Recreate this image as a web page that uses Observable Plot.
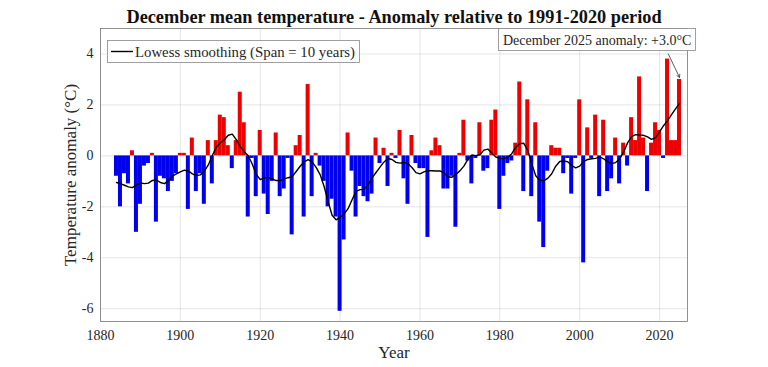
<!DOCTYPE html>
<html><head><meta charset="utf-8">
<script src="https://cdn.jsdelivr.net/npm/d3@7"></script>
<script src="https://cdn.jsdelivr.net/npm/@observablehq/plot@0.6"></script>
<style>
body{margin:0;background:#fff;}
svg{font-family:"Liberation Serif",serif;}
</style></head><body><div id="chart"></div>
<script>
const firstYear = 1884;
const anomalies = [
  -0.8,-2.0,-0.7,-1.1,0.2,-3.0,
  -1.9,-0.4,-0.3,0.1,-2.6,-0.8,-0.9,-1.4,-1.0,-0.7,
  0.1,0.1,-2.1,0.7,-1.4,-0.7,-1.9,0.6,-1.1,0.6,
  1.6,1.5,0.4,-0.5,0.6,2.5,1.3,-2.4,-0.1,-1.6,
  1.0,-1.5,-2.3,-1.0,0.9,-1.6,-1.3,-0.1,-3.1,0.4,
  0.8,-2.4,2.8,-1.6,0.1,-0.4,-1.0,-2.0,-1.7,-2.4,
  -6.1,-3.3,0.9,-0.6,-2.4,-1.2,-1.6,-1.8,-1.5,0.7,
  -0.3,0.3,-1.2,0.1,-0.1,1.0,-0.9,-1.9,0.8,-0.3,
  -0.5,-0.5,-3.2,0.2,0.7,0.4,-1.3,-1.3,-0.8,-2.8,
  0.1,1.4,-0.2,-1.1,-0.1,1.3,-0.6,-0.5,1.4,1.8,
  -2.1,-0.8,-0.3,-0.2,0.5,2.9,-1.4,2.2,-1.6,1.3,
  -2.6,-3.6,-0.6,0.4,0.3,0.3,-0.7,-0.1,-1.5,-0.1,
  2.2,-4.2,1.1,-0.1,1.6,-1.6,1.4,-1.4,-0.9,0.7,
  -1.1,0.5,-0.4,1.5,0.6,3.1,0.7,-1.4,0.5,1.3,
  1.0,-0.1,3.8,0.6,0.6,3.0
];
const years = anomalies.map((_, i) => firstYear + i);
const xTicks = [1880, 1900, 1920, 1940, 1960, 1980, 2000, 2020];
const yTicks = [-6, -4, -2, 0, 2, 4];
const spanYears = 10;
const titleText = "December mean temperature - Anomaly relative to 1991-2020 period";
const legendText = "Lowess smoothing (Span = 10 years)";

const data = years.map((year, i) => ({year, value: anomalies[i]}));

// LOWESS (local linear regression, tricube weights, span = N nearest points)
function lowess(xs, ys, span) {
  const n = xs.length;
  return xs.map((x0) => {
    const idx = d3.range(n).sort((a, b) => Math.abs(xs[a] - x0) - Math.abs(xs[b] - x0)).slice(0, span);
    const h = d3.max(idx, j => Math.abs(xs[j] - x0)) * 1.0001;
    let sw = 0, sx = 0, sy = 0, sxx = 0, sxy = 0;
    for (const j of idx) {
      const u = Math.abs(xs[j] - x0) / h;
      const w = Math.pow(1 - u * u * u, 3);
      sw += w; sx += w * xs[j]; sy += w * ys[j];
      sxx += w * xs[j] * xs[j]; sxy += w * xs[j] * ys[j];
    }
    const mx = sx / sw, my = sy / sw;
    const varx = sxx / sw - mx * mx;
    const b = varx > 1e-12 ? (sxy / sw - mx * my) / varx : 0;
    return my + b * (x0 - mx);
  });
}
const smooth = lowess(years, anomalies, spanYears);
const smoothData = years.map((year, i) => ({year, value: smooth[i]}));
const last = data[data.length - 1];

const W = 768, H = 367;
const mL = 100, mR = 81, mT = 28, mB = 46;

const plot = Plot.plot({
  width: W, height: H,
  marginLeft: mL, marginRight: mR, marginTop: mT, marginBottom: mB,
  style: {fontFamily: "Liberation Serif, serif", fontSize: "14px", color: "#262626", background: "#fff"},
  x: {domain: [1880, 2027], label: null},
  y: {domain: [-6.5, 5], label: null},
  marks: [
    Plot.gridX(xTicks, {stroke: "#000", strokeOpacity: 0.1}),
    Plot.gridY(yTicks, {stroke: "#000", strokeOpacity: 0.1}),
    Plot.rectY(data, {x1: d => d.year - 0.5, x2: d => d.year + 0.5, y1: 0, y2: "value",
      fill: d => d.value >= 0 ? "#ee0000" : "#0000ee", inset: 0}),
    Plot.line(smoothData, {x: "year", y: "value", stroke: "#000", strokeWidth: 1.4}),
    Plot.arrow([last], {x1: d => d.year - 2.8, y1: d => d.value + 1.0, x2: d => d.year, y2: d => d.value + 0.08,
      stroke: "#333", strokeWidth: 0.8, headLength: 6, bend: 0}),
    Plot.frame({stroke: "#777", strokeWidth: 0.8}),
    Plot.axisX(xTicks, {tickSize: 0, tickPadding: 9, tickFormat: d => String(d), fontSize: 14}),
    Plot.axisY(yTicks, {tickSize: 0, tickPadding: 7, tickFormat: d => d < 0 ? "-" + Math.abs(d) : String(d), fontSize: 14}),
    Plot.text([titleText], {frameAnchor: "top", dy: -19, fontSize: 18.3, fontWeight: "bold", fill: "#111", text: d => d}),
    Plot.text(["Year"], {frameAnchor: "bottom", dy: 36, fontSize: 17, fill: "#262626", text: d => d}),
    Plot.text(["Temperature anomaly (\u00B0C)"], {frameAnchor: "left", dx: -30, rotate: -90, textAnchor: "middle", fontSize: 17, fill: "#262626", text: d => d})
  ]
});
document.getElementById("chart").appendChild(plot);

// Legend box and annotation overlay
const svg = d3.select(plot);
const lg = svg.append("g").attr("text-anchor", "start");
lg.append("rect").attr("x", 107.5).attr("y", 40.5).attr("width", 252).attr("height", 22)
  .attr("fill", "#fff").attr("stroke", "#888").attr("stroke-width", 0.8);
lg.append("line").attr("x1", 111).attr("x2", 133).attr("y1", 51.5).attr("y2", 51.5)
  .attr("stroke", "#000").attr("stroke-width", 1.4);
lg.append("text").attr("x", 135).attr("y", 56.5).attr("font-size", 14.8).attr("fill", "#262626")
  .attr("text-anchor", "start").attr("font-family", "Liberation Serif, serif").text(legendText);

const ag = svg.append("g").attr("text-anchor", "start");
ag.append("rect").attr("x", 498.5).attr("y", 28.5).attr("width", 197).attr("height", 22)
  .attr("fill", "#fff").attr("stroke", "#888").attr("stroke-width", 0.8);
ag.append("text").attr("x", 503).attr("y", 44.5).attr("font-size", 14).attr("fill", "#262626")
  .attr("text-anchor", "start").attr("font-family", "Liberation Serif, serif")
  .text(`December ${last.year} anomaly: ${last.value >= 0 ? "+" : ""}${last.value.toFixed(1)}\u00B0C`);
</script></body></html>
